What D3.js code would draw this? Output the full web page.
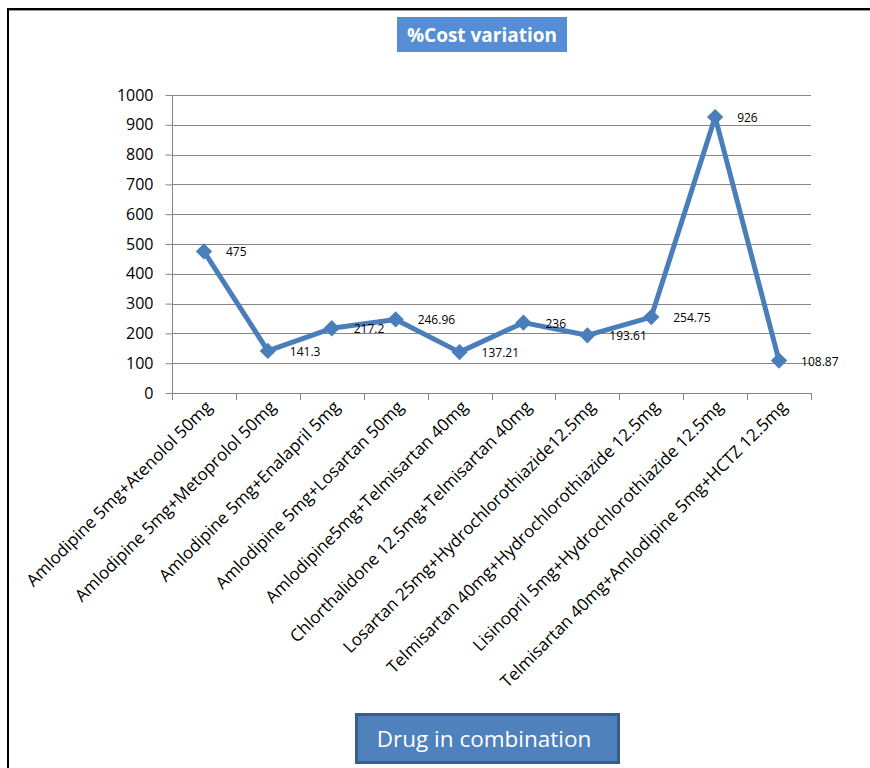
<!DOCTYPE html>
<html><head><meta charset="utf-8">
<script src="https://cdn.jsdelivr.net/npm/d3@7"></script>
<style>body{margin:0;background:#fff}svg{display:block}</style>
</head><body>
<svg id="c" width="870" height="768"></svg>
<script>
const categories = [
  "Amlodipine 5mg+Atenolol 50mg",
  "Amlodipine 5mg+Metoprolol 50mg",
  "Amlodipine 5mg+Enalapril 5mg",
  "Amlodipine 5mg+Losartan 50mg",
  "Amlodipine5mg+Telmisartan 40mg",
  "Chlorthalidone 12.5mg+Telmisartan 40mg",
  "Losartan 25mg+Hydrochlorothiazide12.5mg",
  "Telmisartan 40mg+Hydrochlorothiazide 12.5mg",
  "Lisinopril 5mg+Hydrochlorothiazide 12.5mg",
  "Telmisartan 40mg+Amlodipine 5mg+HCTZ 12.5mg"
];
const costVariation = [475, 141.3, 217.2, 246.96, 137.21, 236, 193.61, 254.75, 926, 108.87];
const dataLabels = ["475", "141.3", "217.2", "246.96", "137.21", "236", "193.61", "254.75", "926", "108.87"];
const yTicks = [0, 100, 200, 300, 400, 500, 600, 700, 800, 900, 1000];
const chartTitle = "%Cost variation";
const xTitle = "Drug in combination";

const font = "'Open Sans', sans-serif";
const svg = d3.select("#c");
const L = 172, R = 811, T = 95, B = 393;
const x = d3.scaleBand().domain(d3.range(categories.length)).range([L, R]);
const y = d3.scaleLinear().domain([0, 1000]).range([B, T]);
const grid = "#868686";

// outer border
svg.append("line").attr("x1", 8).attr("x2", 870).attr("y1", 9).attr("y2", 9).attr("stroke", "#000").attr("stroke-width", 2);
svg.append("line").attr("x1", 9).attr("x2", 870).attr("y1", 10.5).attr("y2", 10.5).attr("stroke", "#999").attr("stroke-width", 1);
svg.append("line").attr("x1", 8).attr("x2", 8).attr("y1", 8).attr("y2", 768).attr("stroke", "#000").attr("stroke-width", 2);

// gridlines
svg.append("g").selectAll("line").data(yTicks.slice(1)).join("line")
  .attr("x1", L).attr("x2", R).attr("y1", d => Math.round(y(d)) + 0.5).attr("y2", d => Math.round(y(d)) + 0.5)
  .attr("stroke", grid).attr("stroke-width", 1);

// y axis
const yAxis = svg.append("g").attr("transform", `translate(${L + 0.5},0)`)
  .call(d3.axisLeft(y).tickValues(yTicks).tickSize(7).tickPadding(12).tickFormat(d3.format("d")));
yAxis.select(".domain").attr("stroke", grid).attr("d", `M0,${T}V${B + 6}`);
yAxis.selectAll(".tick line").attr("stroke", grid);
yAxis.selectAll("text").attr("font-family", font).attr("font-size", 16).attr("fill", "#000");

// x axis
const bounds = d3.range(categories.length + 1).map(i => L + i * x.bandwidth());
const xg = svg.append("g");
xg.append("line").attr("x1", L).attr("x2", R).attr("y1", B + 0.5).attr("y2", B + 0.5).attr("stroke", grid);
xg.selectAll("line.t").data(bounds).join("line").attr("class", "t")
  .attr("x1", d => Math.round(d) + 0.5).attr("x2", d => Math.round(d) + 0.5).attr("y1", B).attr("y2", B + 7).attr("stroke", grid);
xg.selectAll("text").data(categories).join("text")
  .attr("transform", (d, i) => `translate(${x(i) + x.bandwidth() / 2 + 9},${B + 15}) rotate(-45)`)
  .attr("text-anchor", "end").attr("font-family", font).attr("font-size", 17).attr("fill", "#000")
  .text(d => d);

// line
const cx = i => x(i) + x.bandwidth() / 2;
svg.append("path").datum(costVariation)
  .attr("d", d3.line().x((d, i) => cx(i)).y(d => y(d)))
  .attr("fill", "none").attr("stroke", "#4A7EBB").attr("stroke-width", 5).attr("stroke-linejoin", "round");
svg.append("g").selectAll("path").data(costVariation).join("path")
  .attr("d", d3.symbol(d3.symbolDiamond2, 170)())
  .attr("transform", (d, i) => `translate(${cx(i)},${y(d)})`)
  .attr("fill", "#4A7EBB");

// data labels
svg.append("g").selectAll("text").data(costVariation).join("text")
  .attr("x", (d, i) => cx(i) + 22).attr("y", d => y(d) + 5)
  .attr("font-family", font).attr("font-size", 12).attr("fill", "#000")
  .text((d, i) => dataLabels[i]);

// title box
svg.append("rect").attr("x", 397).attr("y", 17).attr("width", 170).attr("height", 35).attr("fill", "#558ED5");
svg.append("text").attr("x", 482).attr("y", 42).attr("text-anchor", "middle")
  .attr("font-family", font).attr("font-weight", "bold").attr("font-size", 19).attr("fill", "#fff").text(chartTitle);

// x title box
svg.append("rect").attr("x", 356.5).attr("y", 714.5).attr("width", 262).attr("height", 48)
  .attr("fill", "#4F81BD").attr("stroke", "#385D8A").attr("stroke-width", 3);
svg.append("text").attr("x", 484).attr("y", 747).attr("text-anchor", "middle")
  .attr("font-family", font).attr("font-size", 22.5).attr("fill", "#fff").text(xTitle);
</script>
</body></html>
